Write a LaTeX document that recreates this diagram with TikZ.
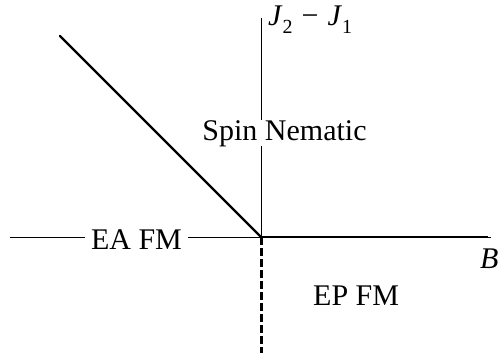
\documentclass[tikz,border=0pt]{standalone}
\usepackage{fontspec}
\setmainfont{Liberation Serif}
\begin{document}
\begin{tikzpicture}[x=1pt,y=-1pt,
  lab/.style={inner sep=0pt,font=\fontsize{30}{36}\selectfont},
  thinax/.style={line width=1pt,black},
  thickln/.style={line width=2.4pt,black},
  dashln/.style={line width=3pt,black,dash pattern=on 8pt off 3pt}]
\useasboundingbox (0,0) rectangle (502,360);
\coordinate (O) at (261,237);
\coordinate (T) at (261,18);
\coordinate (D) at (261,353);
\coordinate (L) at (10,237);
\coordinate (R) at (488,237);
\coordinate (R2) at (491,237);
\coordinate (U) at (60,36);
% axes
\draw[thinax] (T) -- (O);
\draw[thinax] (L) -- (O);
\draw[thinax] (O) -- (R2);
\draw[thickln] (O) -- (R);
\draw[thickln,line cap=round] (U) -- (O);
\draw[dashln] (O) -- (D);
% labels
\node[lab,fill=white,anchor=base,inner ysep=0pt,inner xsep=0pt] (sn) at (284.5,140) {Spin Nematic};
\node[lab,fill=white,anchor=base,inner xsep=6pt] (ea) at (136.5,249) {EA FM};
\node[lab,anchor=base west] (ep) at (313,305) {EP FM};
\node[lab,anchor=base west] (b) at (480,268) {\itshape B};
\node[lab,anchor=base west] (j) at (268,25) {\itshape J\/\raisebox{-0.28em}{\upshape\fontsize{20}{24}\selectfont 2}\hspace{0.3em}\upshape −\hspace{0.3em}\itshape J\/\raisebox{-0.28em}{\upshape\fontsize{20}{24}\selectfont 1}};
\end{tikzpicture}
\end{document}
